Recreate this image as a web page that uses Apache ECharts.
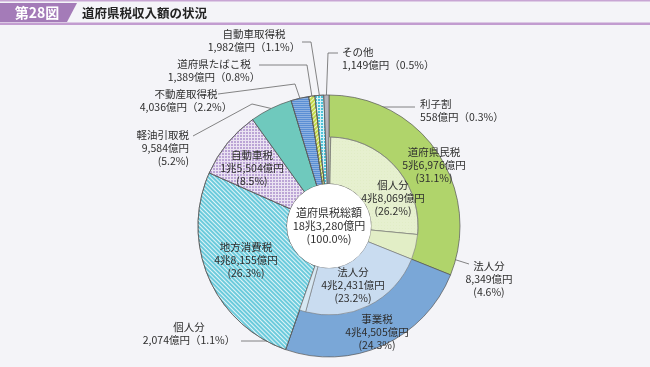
<!DOCTYPE html>
<html><head><meta charset="utf-8">
<script src="https://cdn.jsdelivr.net/npm/echarts@6/dist/echarts.min.js"></script>
<style>html,body{margin:0;padding:0;background:#f4f4f8}#c{width:650px;height:367px}</style>
</head><body><div id="c"></div>
<script>
// ---- data ----
const figNo = '第28図';
const title = '道府県税収入額の状況';
const mainNames = ['道府県民税','事業税','地方消費税','自動車税','軽油引取税','不動産取得税','道府県たばこ税','自動車取得税','その他'];
const mainValues = [56976,44505,48155,15504,9584,4036,1389,1982,1149];
const mainPcts = ['31.1','24.3','26.3','8.5','5.2','2.2','0.8','1.1','0.5'];
const subNames = ['利子割','個人分','法人分','法人分','個人分'];
const subValues = [558,48069,8349,42431,2074];
const subPcts = ['0.3','26.2','4.6','23.2','1.1'];
const totalName = '道府県税総額';
const totalValue = 183280;
const totalPct = '100.0';

// ---- layout / style ----
const FONT = '"Noto Sans CJK JP","Noto Sans",sans-serif';
const CX = 329, CY = 226, R0 = 42, R1 = 131, RI = 89;
const mainColors = ['#b0d46b','#7aa7d7','#6ccbdc','#ebe3f2','#6fc9bd','#5b8fd4','#c3d94a','#d8f1f6','#b4b4bc'];
const stripe = (c, rot, gap) => ({symbol:'rect', symbolSize:1, dashArrayX:[1,0], dashArrayY:[1,gap], rotation:rot, color:c});
const check = (c) => ({symbol:'rect', symbolSize:1, dashArrayX:[2,1], dashArrayY:[2,1], rotation:0, color:c});
const mainDecals = [null, null, stripe('rgba(255,255,255,0.8)', Math.PI/4, 1.2), check('#bca5d6'), null,
  stripe('rgba(255,255,255,0.3)', 0, 1), stripe('rgba(255,255,255,0.7)', -Math.PI/4, 2), check('#4cc3da'), null];
const subColors = ['#e2eec6','#e6f0cf','#e2eec6','#c9dcf0','#d7e8f3'];
const dots = {symbol:'circle', symbolSize:0.7, dashArrayX:[1,2], dashArrayY:[1,2], rotation:0, color:'#d2e3ab'};
const subDecals = [null, dots, null, null, null];

const mainLabelPos = [
  {x:434,y:165,align:'center',fmt:3},
  {x:377,y:332,align:'center',fmt:3},
  {x:246,y:260,align:'center',fmt:3},
  {x:252,y:168,align:'center',fmt:3},
  {x:189,y:148,align:'right',fmt:3,line:[[252,104],[193,136]]},
  {x:186,y:101,align:'center',fmt:2,line:[[295,84],[218,94]]},
  {x:214,y:71,align:'center',fmt:2,line:[[307,65],[259,65]]},
  {x:254,y:41,align:'center',fmt:2,line:[[311,42],[302,42]]},
  {x:342,y:59,align:'left',fmt:2,line:[[328,53],[338,53]]}
];
const subLabelPos = [
  {x:420,y:111,align:'left',fmt:2,line:[[347,107],[415,107]]},
  {x:393,y:198,align:'center',fmt:3},
  {x:489,y:279,align:'center',fmt:3,line:[[469,264]]},
  {x:353,y:285,align:'center',fmt:3},
  {x:189,y:334,align:'center',fmt:2,line:[[286,341],[241,341]]}
];

function oku(v){
  const t = Math.floor(v/10000), r = v % 10000;
  const rs = r.toLocaleString('en-US');
  return (t > 0 ? t + '兆' + rs : rs) + '億円';
}
function labelText(name, value, pct, fmt){
  return fmt === 3 ? name + '\n' + oku(value) + '\n(' + pct + '%)' : name + '\n' + oku(value) + '（' + pct + '%）';
}
function layoutFor(cfgs, p){
  const c = cfgs[p.dataIndex];
  if (!c) return {};
  const o = {x:c.x, y:c.y, align:c.align, verticalAlign:'middle'};
  if (c.line && p.labelLinePoints && p.labelLinePoints.length) {
    o.labelLinePoints = [p.labelLinePoints[0]].concat(c.line);
  }
  return o;
}

const subSum = subValues.reduce((a,b)=>a+b,0);
const subData = subNames.map((n,i)=>({
  name:n, value:subValues[i],
  itemStyle:{color:subColors[i], decal:subDecals[i] || undefined},
  label: subLabelPos[i].line ? {position:'outside'} : {position:'inside'},
  labelLine:{show: !!subLabelPos[i].line}
}));
subData.push({name:'', value: totalValue - subSum, itemStyle:{color:'rgba(0,0,0,0)', borderWidth:0}, label:{show:false}, labelLine:{show:false}});

const labelBase = {show:true, fontSize:10.5, lineHeight:13, color:'#2e2e2e', fontFamily:FONT};
const chart = echarts.init(document.getElementById('c'));
chart.setOption({
  backgroundColor:'#f4f4f8',
  animation:false,
  textStyle:{fontFamily:FONT},
  graphic:[
    {type:'rect', shape:{x:0,y:0,width:650,height:1.5}, style:{fill:'#c8a5d4'}},
    {type:'rect', shape:{x:0,y:22.5,width:650,height:2.5}, style:{fill:'#c29cd0'}},
    {type:'polygon', shape:{points:[[0,3],[77,3],[67,22],[0,22]]}, style:{fill:'#a47bb8'}},
    {type:'text', x:37, y:13, style:{text:figNo, fill:'#fff', fontSize:14, fontWeight:'bold', fontFamily:FONT, align:'center', verticalAlign:'middle'}},
    {type:'text', x:82, y:13, style:{text:title, fill:'#222', fontSize:12.5, fontWeight:'bold', fontFamily:FONT, align:'left', verticalAlign:'middle'}}
  ],
  series:[
    {
      type:'pie', center:[CX,CY], radius:[R0,R1], startAngle:90, clockwise:true,
      avoidLabelOverlap:false, silent:true, emphasis:{disabled:true},
      itemStyle:{borderColor:'#555', borderWidth:0.7},
      label:Object.assign({}, labelBase, {position:'outside', formatter:p=>labelText(p.name, mainValues[p.dataIndex], mainPcts[p.dataIndex], mainLabelPos[p.dataIndex].fmt)}),
      labelLine:{show:true, length:5, length2:5, lineStyle:{color:'#666', width:0.8}},
      labelLayout:p=>layoutFor(mainLabelPos, p),
      data: mainNames.map((n,i)=>({
        name:n, value:mainValues[i],
        itemStyle:{color:mainColors[i], decal:mainDecals[i] || undefined},
        label: mainLabelPos[i].line ? {position:'outside'} : {position:'inside'},
        labelLine:{show: !!mainLabelPos[i].line}
      }))
    },
    {
      type:'pie', center:[CX,CY], radius:[R0,RI], startAngle:90, clockwise:true,
      avoidLabelOverlap:false, silent:true, emphasis:{disabled:true},
      itemStyle:{borderColor:'#777', borderWidth:0.6},
      label:Object.assign({}, labelBase, {position:'outside', formatter:p=>p.dataIndex < subValues.length ? labelText(p.name, subValues[p.dataIndex], subPcts[p.dataIndex], subLabelPos[p.dataIndex].fmt) : ''}),
      labelLine:{show:true, length:5, length2:5, lineStyle:{color:'#666', width:0.8}},
      labelLayout:p=>layoutFor(subLabelPos, p),
      data: subData
    },
    {
      type:'pie', center:[CX,CY], radius:[0,R0], silent:true, emphasis:{disabled:true},
      itemStyle:{color:'#ffffff', borderWidth:0},
      label:{show:true, position:'center', fontSize:11, lineHeight:13, color:'#2e2e2e', fontFamily:FONT,
        formatter:p=>p.name + '\n' + oku(p.value) + '\n(' + totalPct + '%)'},
      labelLine:{show:false},
      data:[{name:totalName, value:totalValue}]
    }
  ]
});
</script></body></html>
